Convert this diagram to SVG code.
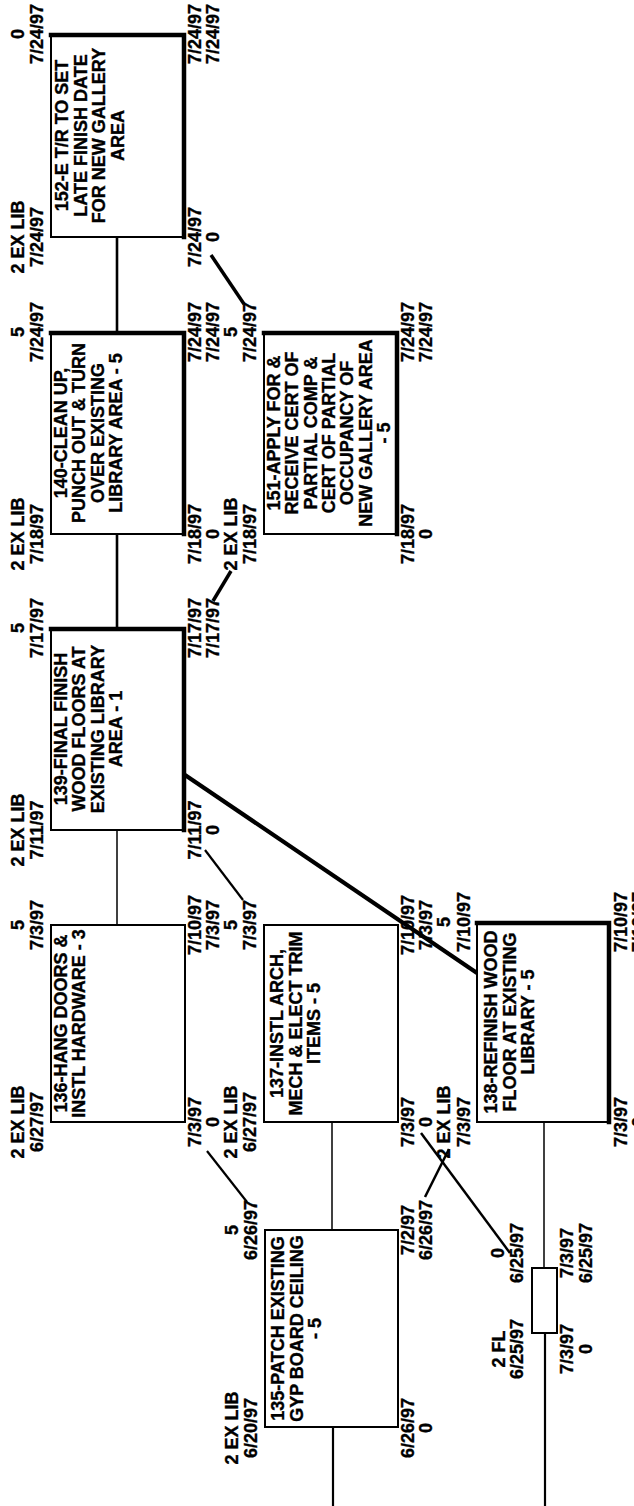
<svg xmlns="http://www.w3.org/2000/svg" width="634" height="1506" viewBox="0 0 634 1506">
<style>
text{font-family:"Liberation Sans",Arial,Helvetica,sans-serif;font-weight:bold;font-size:18px;fill:#000;stroke:#000;stroke-width:0.35;text-anchor:middle}
.box{fill:#fff;stroke:#000;stroke-width:2}
.crit{stroke:#000;stroke-width:4.5;stroke-linecap:square;fill:none}
.c1{stroke:#000;stroke-width:1.5;fill:none}
.c2{stroke:#000;stroke-width:2.2;fill:none}
.c3{stroke:#000;stroke-width:3.5;fill:none}
.c4{stroke:#000;stroke-width:4.2;fill:none}
</style>
<rect x="0" y="0" width="634" height="1506" fill="#fff"/>
<g id="connectors">
<line class="c3" x1="117" y1="237" x2="117" y2="332" style="stroke-width:2.6"/>
<line class="c3" x1="117" y1="534" x2="117" y2="628" style="stroke-width:2.6"/>
<line class="c1" x1="117" y1="830" x2="117" y2="925"/>
<line class="c1" x1="332" y1="1122" x2="332" y2="1230"/>
<line class="c2" x1="333" y1="1427" x2="333" y2="1506"/>
<line class="c1" x1="544" y1="1122" x2="544" y2="1268"/>
<line class="c2" x1="545" y1="1333" x2="545" y2="1506"/>
<line class="c3" x1="211" y1="255" x2="244" y2="304"/>
<line class="c3" x1="213" y1="601" x2="231" y2="571"/>
<line class="c4" x1="185" y1="775" x2="477" y2="973"/>
<line class="c2" x1="205" y1="850" x2="243" y2="900"/>
<line class="c2" x1="207" y1="1151" x2="247" y2="1202"/>
<line class="c2" x1="421" y1="1133" x2="510" y2="1253" style="stroke-width:2.5"/>
<line class="c2" x1="425" y1="1197" x2="449" y2="1149" style="stroke-width:2.5"/>
</g>
<g id="n152">
<rect class="box" x="51" y="34" width="134" height="203"/>
<polyline class="crit" points="51,35 184,35 184,237"/>
<text transform="translate(68,135.5) rotate(-90)">152-E T/R TO SET</text>
<text transform="translate(86.5,135.5) rotate(-90)">LATE FINISH DATE</text>
<text transform="translate(105,135.5) rotate(-90)">FOR NEW GALLERY</text>
<text transform="translate(123.5,135.5) rotate(-90)">AREA</text>
<text transform="translate(24,34) rotate(-90)">0</text>
<text transform="translate(43,34) rotate(-90)">7/24/97</text>
<text transform="translate(24,237) rotate(-90)">2 EX LIB</text>
<text transform="translate(43,237) rotate(-90)">7/24/97</text>
<text transform="translate(201,34) rotate(-90)">7/24/97</text>
<text transform="translate(219,34) rotate(-90)">7/24/97</text>
<text transform="translate(201,237) rotate(-90)">7/24/97</text>
<text transform="translate(219,237) rotate(-90)">0</text>
</g>
<g id="n140">
<rect class="box" x="51" y="332" width="134" height="202"/>
<polyline class="crit" points="51,333 184,333 184,534"/>
<text transform="translate(67,433) rotate(-90)">140-CLEAN UP,</text>
<text transform="translate(85.3,433) rotate(-90)">PUNCH OUT &amp; TURN</text>
<text transform="translate(103.6,433) rotate(-90)">OVER EXISTING</text>
<text transform="translate(122,433) rotate(-90)">LIBRARY AREA - 5</text>
<text transform="translate(24,332) rotate(-90)">5</text>
<text transform="translate(43,332) rotate(-90)">7/24/97</text>
<text transform="translate(24,534) rotate(-90)">2 EX LIB</text>
<text transform="translate(43,534) rotate(-90)">7/18/97</text>
<text transform="translate(201,332) rotate(-90)">7/24/97</text>
<text transform="translate(219,332) rotate(-90)">7/24/97</text>
<text transform="translate(201,534) rotate(-90)">7/18/97</text>
<text transform="translate(219,534) rotate(-90)">0</text>
</g>
<g id="n151">
<rect class="box" x="264" y="332" width="134" height="202"/>
<polyline class="crit" points="264,333 397,333 397,534"/>
<text transform="translate(280,433) rotate(-90)">151-APPLY FOR &amp;</text>
<text transform="translate(298.3,433) rotate(-90)">RECEIVE CERT OF</text>
<text transform="translate(316.6,433) rotate(-90)">PARTIAL COMP &amp;</text>
<text transform="translate(334.9,433) rotate(-90)">CERT OF PARTIAL</text>
<text transform="translate(353.2,433) rotate(-90)">OCCUPANCY OF</text>
<text transform="translate(371.5,433) rotate(-90)">NEW GALLERY AREA</text>
<text transform="translate(389.8,433) rotate(-90)">- 5</text>
<text transform="translate(237,332) rotate(-90)">5</text>
<text transform="translate(256,332) rotate(-90)">7/24/97</text>
<text transform="translate(237,534) rotate(-90)">2 EX LIB</text>
<text transform="translate(256,534) rotate(-90)">7/18/97</text>
<text transform="translate(414,332) rotate(-90)">7/24/97</text>
<text transform="translate(432,332) rotate(-90)">7/24/97</text>
<text transform="translate(414,534) rotate(-90)">7/18/97</text>
<text transform="translate(432,534) rotate(-90)">0</text>
</g>
<g id="n139">
<rect class="box" x="51" y="628" width="134" height="202"/>
<polyline class="crit" points="51,629 184,629 184,830"/>
<text transform="translate(67,729) rotate(-90)">139-FINAL FINISH</text>
<text transform="translate(85.3,729) rotate(-90)">WOOD FLOORS AT</text>
<text transform="translate(103.6,729) rotate(-90)">EXISTING LIBRARY</text>
<text transform="translate(122,729) rotate(-90)">AREA - 1</text>
<text transform="translate(24,628) rotate(-90)">5</text>
<text transform="translate(43,628) rotate(-90)">7/17/97</text>
<text transform="translate(24,830) rotate(-90)">2 EX LIB</text>
<text transform="translate(43,830) rotate(-90)">7/11/97</text>
<text transform="translate(201,628) rotate(-90)">7/17/97</text>
<text transform="translate(219,628) rotate(-90)">7/17/97</text>
<text transform="translate(201,830) rotate(-90)">7/11/97</text>
<text transform="translate(219,830) rotate(-90)">0</text>
</g>
<g id="n136">
<rect class="box" x="51" y="925" width="134" height="197"/>
<text transform="translate(67,1023.5) rotate(-90)">136-HANG DOORS &amp;</text>
<text transform="translate(85,1023.5) rotate(-90)">INSTL HARDWARE - 3</text>
<text transform="translate(24,925) rotate(-90)">5</text>
<text transform="translate(43,925) rotate(-90)">7/3/97</text>
<text transform="translate(24,1122) rotate(-90)">2 EX LIB</text>
<text transform="translate(43,1122) rotate(-90)">6/27/97</text>
<text transform="translate(201,925) rotate(-90)">7/10/97</text>
<text transform="translate(219,925) rotate(-90)">7/3/97</text>
<text transform="translate(201,1122) rotate(-90)">7/3/97</text>
<text transform="translate(219,1122) rotate(-90)">0</text>
</g>
<g id="n137">
<rect class="box" x="264" y="925" width="134" height="197"/>
<text transform="translate(283,1023.5) rotate(-90)">137-INSTL ARCH,</text>
<text transform="translate(301.5,1023.5) rotate(-90)">MECH &amp; ELECT TRIM</text>
<text transform="translate(320,1023.5) rotate(-90)">ITEMS - 5</text>
<text transform="translate(237,925) rotate(-90)">5</text>
<text transform="translate(256,925) rotate(-90)">7/3/97</text>
<text transform="translate(237,1122) rotate(-90)">2 EX LIB</text>
<text transform="translate(256,1122) rotate(-90)">6/27/97</text>
<text transform="translate(414,925) rotate(-90)">7/10/97</text>
<text transform="translate(432,925) rotate(-90)">7/3/97</text>
<text transform="translate(414,1122) rotate(-90)">7/3/97</text>
<text transform="translate(432,1122) rotate(-90)">0</text>
</g>
<g id="n138">
<rect class="box" x="477" y="922" width="133" height="200"/>
<polyline class="crit" points="477,923 609,923 609,1122"/>
<text transform="translate(497,1022) rotate(-90)">138-REFINISH WOOD</text>
<text transform="translate(515.5,1022) rotate(-90)">FLOOR AT EXISTING</text>
<text transform="translate(534,1022) rotate(-90)">LIBRARY - 5</text>
<text transform="translate(450,922) rotate(-90)">5</text>
<text transform="translate(470,922) rotate(-90)">7/10/97</text>
<text transform="translate(450,1122) rotate(-90)">2 EX LIB</text>
<text transform="translate(470,1122) rotate(-90)">7/3/97</text>
<text transform="translate(627,922) rotate(-90)">7/10/97</text>
<text transform="translate(645,922) rotate(-90)">7/10/97</text>
<text transform="translate(627,1122) rotate(-90)">7/3/97</text>
<text transform="translate(645,1122) rotate(-90)">0</text>
</g>
<g id="n135">
<rect class="box" x="265" y="1230" width="133" height="197"/>
<text transform="translate(284,1328.5) rotate(-90)">135-PATCH EXISTING</text>
<text transform="translate(302.5,1328.5) rotate(-90)">GYP BOARD CEILING</text>
<text transform="translate(321,1328.5) rotate(-90)">- 5</text>
<text transform="translate(238,1230) rotate(-90)">5</text>
<text transform="translate(257,1230) rotate(-90)">6/26/97</text>
<text transform="translate(238,1428) rotate(-90)">2 EX LIB</text>
<text transform="translate(257,1428) rotate(-90)">6/20/97</text>
<text transform="translate(414,1230) rotate(-90)">7/2/97</text>
<text transform="translate(432,1230) rotate(-90)">6/26/97</text>
<text transform="translate(414,1428) rotate(-90)">6/26/97</text>
<text transform="translate(432,1428) rotate(-90)">0</text>
</g>
<g id="n2fl">
<rect class="box" x="532" y="1268" width="25" height="65"/>
<text transform="translate(504,1253) rotate(-90)">0</text>
<text transform="translate(523,1253) rotate(-90)">6/25/97</text>
<text transform="translate(505,1349) rotate(-90)">2 FL</text>
<text transform="translate(523,1349) rotate(-90)">6/25/97</text>
<text transform="translate(573,1253) rotate(-90)">7/3/97</text>
<text transform="translate(592,1253) rotate(-90)">6/25/97</text>
<text transform="translate(573,1349) rotate(-90)">7/3/97</text>
<text transform="translate(592,1349) rotate(-90)">0</text>
</g>
</svg>
